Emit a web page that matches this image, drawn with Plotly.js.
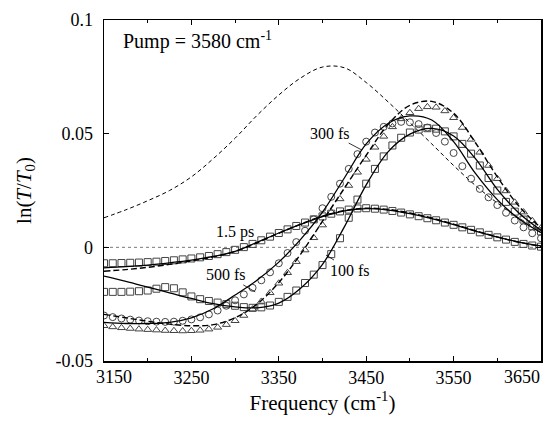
<!DOCTYPE html>
<html>
<head>
<meta charset="utf-8">
<script src="https://cdn.plot.ly/plotly-3.0.1.min.js"></script>
<style>html,body{margin:0;padding:0;background:#fff;}#chart{width:551px;height:422px;}</style>
</head>
<body>
<div id="chart"></div>
<script>
// ---- data ----
const freqData = [3150,3160,3170,3180,3190,3200,3210,3220,3230,3240,3250,3260,3270,3280,3290,3300,3310,3320,3330,3340,3350,3360,3370,3380,3390,3400,3410,3420,3430,3440,3450,3460,3470,3480,3490,3500,3510,3520,3530,3540,3550,3560,3570,3580,3590,3600,3610,3620,3630,3640,3650];

const data100fs = [-0.0196,-0.0196,-0.0196,-0.0195,-0.0193,-0.0190,-0.0182,-0.0175,-0.0180,-0.0198,-0.0216,-0.0228,-0.0236,-0.0243,-0.0250,-0.0257,-0.0263,-0.0266,-0.0264,-0.0256,-0.0240,-0.0218,-0.0190,-0.0157,-0.0120,-0.0078,-0.0030,0.0040,0.0130,0.0210,0.0280,0.0345,0.0400,0.0448,0.0482,0.0505,0.0518,0.0524,0.0522,0.0510,0.0488,0.0455,0.0412,0.0360,0.0305,0.0250,0.0200,0.0157,0.0122,0.0093,0.0070];

const data300fs = [-0.0345,-0.0350,-0.0354,-0.0357,-0.0360,-0.0362,-0.0364,-0.0366,-0.0367,-0.0368,-0.0367,-0.0365,-0.0360,-0.0352,-0.0340,-0.0323,-0.0300,-0.0272,-0.0238,-0.0200,-0.0158,-0.0112,-0.0063,-0.0012,0.0042,0.0098,0.0155,0.0213,0.0272,0.0330,0.0387,0.0440,0.0488,0.0530,0.0565,0.0592,0.0610,0.0618,0.0616,0.0600,0.0570,0.0527,0.0475,0.0418,0.0360,0.0302,0.0248,0.0198,0.0155,0.0117,0.0085];

const data500fs = [-0.0300,-0.0307,-0.0313,-0.0318,-0.0322,-0.0325,-0.0327,-0.0328,-0.0327,-0.0323,-0.0317,-0.0308,-0.0295,-0.0278,-0.0257,-0.0233,-0.0207,-0.0178,-0.0145,-0.0110,-0.0070,-0.0025,0.0023,0.0073,0.0123,0.0172,0.0222,0.0280,0.0345,0.0410,0.0465,0.0505,0.0530,0.0545,0.0552,0.0550,0.0542,0.0527,0.0503,0.0465,0.0415,0.0357,0.0302,0.0257,0.0220,0.0186,0.0152,0.0118,0.0088,0.0062,0.0040];

const data1500fs = [-0.0070,-0.0070,-0.0069,-0.0068,-0.0067,-0.0065,-0.0063,-0.0060,-0.0057,-0.0053,-0.0049,-0.0044,-0.0038,-0.0030,-0.0021,-0.0011,0.0001,0.0015,0.0031,0.0047,0.0063,0.0079,0.0094,0.0109,0.0123,0.0136,0.0148,0.0158,0.0166,0.0171,0.0172,0.0170,0.0166,0.0160,0.0153,0.0145,0.0137,0.0128,0.0119,0.0109,0.0099,0.0088,0.0077,0.0066,0.0055,0.0044,0.0034,0.0024,0.0015,0.0008,0.0003];

const freqFit = [3150,3175,3200,3225,3250,3275,3300,3325,3350,3375,3400,3425,3450,3475,3500,3525,3550,3575,3600,3625,3650];
const fit100fsSolid = [-0.0127,-0.0150,-0.0175,-0.0200,-0.0225,-0.0248,-0.0262,-0.0266,-0.0245,-0.0180,-0.0075,0.0090,0.0275,0.0420,0.0498,0.0523,0.0490,0.0390,0.0255,0.0150,0.0075];
const fit300fsDash = [-0.0295,-0.0310,-0.0325,-0.0338,-0.0345,-0.0340,-0.0310,-0.0250,-0.0155,-0.0030,0.0115,0.0260,0.0405,0.0540,0.0625,0.0642,0.0590,0.0460,0.0310,0.0180,0.0085];
const fit500fsSolid = [-0.0330,-0.0335,-0.0335,-0.0330,-0.0310,-0.0270,-0.0210,-0.0145,-0.0065,0.0035,0.0155,0.0305,0.0455,0.0545,0.0578,0.0560,0.0465,0.0325,0.0210,0.0125,0.0065];
const fit1500fsSolid = [-0.0090,-0.0085,-0.0078,-0.0068,-0.0056,-0.0040,-0.0018,0.0022,0.0063,0.0101,0.0135,0.0160,0.0170,0.0164,0.0148,0.0126,0.0100,0.0071,0.0045,0.0023,0.0006];
const fit1500fsDash = [-0.0105,-0.0098,-0.0088,-0.0075,-0.0060,-0.0042,-0.0018,0.0020,0.0062,0.0102,0.0137,0.0162,0.0172,0.0167,0.0151,0.0129,0.0102,0.0073,0.0046,0.0022,0.0004];

const freqAbs = [3150,3175,3200,3225,3250,3275,3300,3325,3350,3375,3400,3425,3450,3475,3500,3525,3550,3575,3600,3625,3650];
const absSpectrum = [0.0130,0.0165,0.0205,0.0250,0.0310,0.0390,0.0480,0.0580,0.0670,0.0745,0.0793,0.0790,0.0725,0.0640,0.0548,0.0455,0.0360,0.0272,0.0195,0.0128,0.0072];

const xTickVals = [3150,3250,3350,3450,3550,3650];
const xTickText = ['','3250','3350','3450','3550',''];
const xEdgeLabels = ['3150','3650'];
const yTickVals = [-0.05,0,0.05,0.1];
const yTickText = ['-0.05','0','0.05','0.1'];

// ---- traces ----
const FONT = 'Liberation Serif, Times New Roman, serif';
const mk = (sym, size) => ({symbol: sym, size: size, color: '#444', line: {color: '#444', width: 1}});
const traces = [
  {x: [3150,3650], y: [0,0], mode: 'lines', line: {color: '#555', width: 0.8, dash: 'dot'}},
  {x: freqAbs, y: absSpectrum, mode: 'lines', line: {color: '#000', width: 1, dash: '4px,3px', shape: 'spline'}},
  {x: freqData, y: data1500fs, mode: 'markers', marker: mk('square-open', 7)},
  {x: freqData, y: data100fs, mode: 'markers', marker: mk('square-open', 7)},
  {x: freqData, y: data500fs, mode: 'markers', marker: mk('circle-open', 7)},
  {x: freqData, y: data300fs, mode: 'markers', marker: mk('triangle-up-open', 7)},
  {x: freqFit, y: fit1500fsDash, mode: 'lines', line: {color: '#000', width: 1.4, dash: '6px,3px', shape: 'spline'}},
  {x: freqFit, y: fit1500fsSolid, mode: 'lines', line: {color: '#000', width: 1.3, shape: 'spline'}},
  {x: freqFit, y: fit100fsSolid, mode: 'lines', line: {color: '#000', width: 1.3, shape: 'spline'}},
  {x: freqFit, y: fit500fsSolid, mode: 'lines', line: {color: '#000', width: 1.3, shape: 'spline'}},
  {x: freqFit, y: fit300fsDash, mode: 'lines', line: {color: '#000', width: 1.4, dash: '6px,3px', shape: 'spline'}}
];

const ann = (x, y, text, ax, ay) => ({x: x, y: y, xref: 'x', yref: 'y', text: text, showarrow: true,
  arrowhead: 0, arrowwidth: 0.8, arrowcolor: '#000', ax: ax, ay: ay, standoff: 0, startstandoff: 0,
  font: {family: FONT, size: 16, color: '#000'}});
const edgeLab = (x, text, anchor, shift) => ({x: x, y: 0, xref: 'x', yref: 'paper', text: text, showarrow: false,
  xanchor: anchor, yanchor: 'top', xshift: shift, yshift: -4, font: {family: FONT, size: 18, color: '#000'}});

const layout = {
  width: 551, height: 422,
  margin: {l: 104, r: 10, t: 20, b: 61},
  paper_bgcolor: '#fff', plot_bgcolor: '#fff',
  showlegend: false,
  font: {family: FONT, color: '#000'},
  xaxis: {
    range: [3150, 3650], tickmode: 'array', tickvals: xTickVals, ticktext: xTickText,
    ticks: 'inside', ticklen: 5, tickwidth: 1, tickcolor: '#000',
    showline: true, linecolor: '#000', linewidth: 1.5, mirror: 'allticks',
    showgrid: false, zeroline: false,
    minor: {tickvals: [3200,3300,3400,3500,3600], ticks: 'inside', ticklen: 3, tickcolor: '#000', showgrid: false},
    tickfont: {family: FONT, size: 18, color: '#000'},
    title: {text: 'Frequency (cm<sup>-1</sup>)', font: {family: FONT, size: 21, color: '#000'}, standoff: 6}
  },
  yaxis: {
    range: [-0.05, 0.1], tickmode: 'array', tickvals: yTickVals, ticktext: yTickText,
    ticks: 'inside', ticklen: 5, tickwidth: 1, tickcolor: '#000',
    showline: true, linecolor: '#000', linewidth: 1.5, mirror: 'allticks',
    showgrid: false, zeroline: false,
    tickfont: {family: FONT, size: 18, color: '#000'},
    ticklabelstandoff: 6,
    title: {text: 'ln(<i>T</i>/<i>T</i><sub>0</sub>)', font: {family: FONT, size: 21, color: '#000'}, standoff: 18}
  },
  annotations: [
    {xref: 'paper', yref: 'paper', x: 0.039, y: 0.94, xanchor: 'left', yanchor: 'middle', showarrow: false,
     text: 'Pump = 3580 cm<sup>-1</sup>', font: {family: FONT, size: 20, color: '#000'}},
    ann(3445, 0.0428, '300 fs', -32, -17),
    ann(3326, 0.0015, '1.5 ps', -23, -12),
    ann(3323, -0.0196, '500 fs', -29, -17),
    ann(3404, -0.0034, '100 fs', 24, 15),
    edgeLab(3150, xEdgeLabels[0], 'left', -10),
    edgeLab(3650, xEdgeLabels[1], 'right', 1)
  ]
};

Plotly.newPlot('chart', traces, layout, {displayModeBar: false, staticPlot: true});
</script>
</body>
</html>
